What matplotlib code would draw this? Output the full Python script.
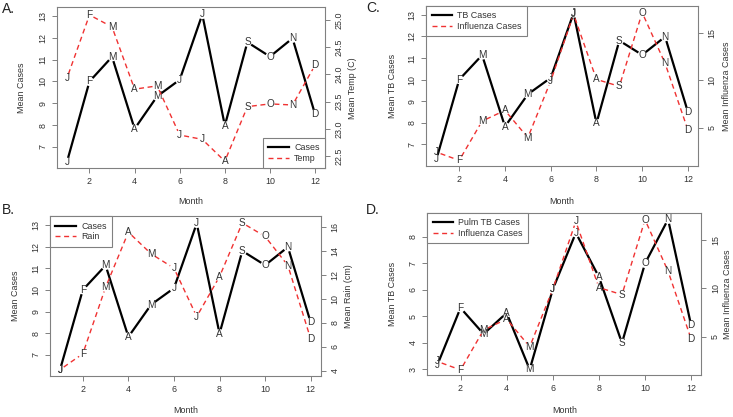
import numpy as np
import matplotlib
matplotlib.use('Agg')
import matplotlib.pyplot as plt
from matplotlib.lines import Line2D

plt.rcParams['font.family'] = ['Liberation Sans', 'DejaVu Sans']

# ---------------- data ----------------
months = np.arange(1, 13)
month_letters = ['J', 'F', 'M', 'A', 'M', 'J', 'J', 'A', 'S', 'O', 'N', 'D']
mean_cases = [6.31, 10.0, 11.13, 7.83, 9.32, 10.08, 13.07, 7.98, 11.8, 11.14, 11.98, 8.5]
mean_temp = [23.93, 25.09, 24.87, 23.73, 23.79, 22.89, 22.81, 22.41, 23.41, 23.46, 23.44, 24.17]
mean_rain = [4.08, 5.4, 10.94, 15.53, 13.72, 12.53, 8.5, 11.83, 16.3, 15.17, 12.75, 6.64]
mean_flu = [2.43, 1.56, 5.69, 6.82, 3.95, 9.91, 16.93, 10.08, 9.35, 17.1, 11.77, 4.75]
mean_pulm_tb = [3.18, 5.32, 4.34, 5.13, 3.0, 6.02, 8.15, 6.49, 4.0, 7.0, 8.66, 4.66]

x_ticks = [2, 4, 6, 8, 10, 12]
cases_ticks = [7, 8, 9, 10, 11, 12, 13]
temp_ticks = [22.5, 23.0, 23.5, 24.0, 24.5, 25.0]
temp_tick_labels = ['22.5', '23.0', '23.5', '24.0', '24.5', '25.0']
rain_ticks = [4, 6, 8, 10, 12, 14, 16]
flu_ticks = [5, 10, 15]
pulm_ticks = [3, 4, 5, 6, 7, 8]

# ---------------- style ----------------
W, H = 733, 417
GRAY = '#808080'
TXT = '#333333'
RED = '#f03232'
FS = 6.4
LETTER_FS = 7.2
GAP = 4.5

fig = plt.figure(figsize=(W / 100, H / 100), dpi=100)


def box(l, r, t, b):
    return [l / W, 1 - b / H, (r - l) / W, (b - t) / H]


def gapped(ax, x, y, gap, **kw):
    pts = ax.transData.transform(np.column_stack([x, y]))
    inv = ax.transData.inverted()
    for i in range(len(pts) - 1):
        p0, p1 = pts[i], pts[i + 1]
        d = p1 - p0
        L = np.hypot(d[0], d[1])
        if L <= 2 * gap:
            continue
        u = d / L
        a = inv.transform(p0 + u * gap)
        b = inv.transform(p1 - u * gap)
        ax.plot([a[0], b[0]], [a[1], b[1]], solid_capstyle='butt',
                dash_capstyle='butt', **kw)


def panel(pos, y1, y2, ylim1, ylim2, ticks1, ticks2, ticklabels2,
          ylab1, ylab2, leg_labels, leg_loc, lab_x, rlab_x, xlab_y):
    ax = fig.add_axes(pos)
    ax.set_xlim(0.56, 12.44)
    ax.set_ylim(*ylim1)
    ax2 = ax.twinx()
    ax2.set_ylim(*ylim2)

    for s in ax.spines.values():
        s.set_color(GRAY)
        s.set_linewidth(0.8)
    for s in ax2.spines.values():
        s.set_visible(False)

    ax.set_xticks(x_ticks)
    ax.set_yticks(ticks1)
    ax2.set_yticks(ticks2)
    if ticklabels2 is not None:
        ax2.set_yticklabels(ticklabels2)
    for a in (ax, ax2):
        a.tick_params(axis='both', direction='out', length=3.5, width=0.7,
                      color=GRAY, labelcolor=TXT, labelsize=FS)
        a.tick_params(axis='y', pad=3.5)
        a.tick_params(axis='x', pad=3)
    for lbl in ax.get_yticklabels():
        lbl.set_rotation(90)
        lbl.set_va('center')
    for lbl in ax2.get_yticklabels():
        lbl.set_rotation(90)
        lbl.set_va('center')

    ax.set_xlabel('Month', fontsize=FS, color=TXT)
    ax.xaxis.set_label_coords(0.5, xlab_y)
    ax.xaxis.label.set_va('center')
    ax.set_ylabel(ylab1, fontsize=FS, color=TXT)
    ax.yaxis.set_label_coords(lab_x, 0.5)
    ax.yaxis.label.set_va('center')
    ax2.set_ylabel(ylab2, fontsize=FS, color=TXT, rotation=90)
    ax2.yaxis.set_label_coords(rlab_x, 0.5)
    ax2.yaxis.label.set_va('center')

    gapped(ax, months, y1, GAP, color='black', lw=1.6, ls='-')
    gapped(ax2, months, y2, GAP, color=RED, lw=1.0, dashes=(3.6, 2.6))
    for m, v, t in zip(months, y1, month_letters):
        ax.text(m, v, t, ha='center', va='center', fontsize=LETTER_FS,
                color=TXT)
    for m, v, t in zip(months, y2, month_letters):
        ax2.text(m, v, t, ha='center', va='center', fontsize=LETTER_FS,
                 color=TXT)

    handles = [Line2D([], [], color='black', lw=1.6),
               Line2D([], [], color=RED, lw=1.0, dashes=(3.6, 2.6))]
    leg = ax2.legend(handles, leg_labels, loc=leg_loc, borderaxespad=0,
                     fontsize=FS, fancybox=False, framealpha=1,
                     edgecolor=GRAY, handlelength=2.3, handletextpad=0.6,
                     labelspacing=0.2, borderpad=0.6)
    leg.get_frame().set_linewidth(0.8)
    for t in leg.get_texts():
        t.set_color(TXT)
    return ax, ax2


# A
panel(box(57, 325, 7.3, 168.3), mean_cases, mean_temp, (6.02, 13.4),
      (22.28, 25.23), cases_ticks, temp_ticks, temp_tick_labels,
      'Mean Cases', 'Mean Temp (C)', ['Cases', 'Temp'], 'lower right',
      -0.131, 1.101, -0.209)
# B
panel(box(50, 320.7, 216.3, 376), mean_cases, mean_rain, (6.02, 13.4),
      (3.55, 16.85), cases_ticks, rain_ticks, None,
      'Mean Cases', 'Mean Rain (cm)', ['Cases', 'Rain'], 'upper left',
      -0.129, 1.102, -0.219)
# C
panel(box(426.3, 698, 6, 165.7), mean_cases, mean_flu, (6.02, 13.4),
      (1.0, 17.8), cases_ticks, flu_ticks, None,
      'Mean TB Cases', 'Mean Influenza Cases', ['TB Cases', 'Influenza Cases'],
      'upper left', -0.125, 1.104, -0.225)
# D
panel(box(427.3, 701.3, 213, 375.3), mean_pulm_tb, mean_flu, (2.78, 8.9),
      (1.0, 17.8), pulm_ticks, flu_ticks, None,
      'Mean TB Cases', 'Mean Influenza Cases',
      ['Pulm TB Cases', 'Influenza Cases'], 'upper left',
      -0.128, 1.097, -0.219)

for lab, x, y in [('A.', 2, 9), ('B.', 2, 210), ('C.', 366, 8), ('D.', 366, 210)]:
    fig.text(x / W, 1 - y / H, lab, fontsize=10, ha='left', va='center',
             color='#222222')

fig.savefig('out.png', dpi=100)
